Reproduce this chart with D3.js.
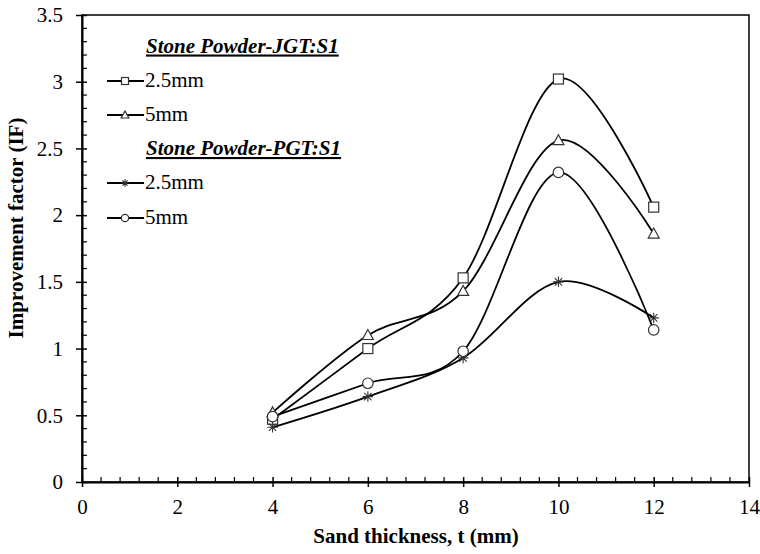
<!DOCTYPE html>
<html><head><meta charset="utf-8">
<script src="https://cdn.jsdelivr.net/npm/d3@7"></script>
<style>body{margin:0;background:#fff}svg{display:block}
html body svg#c text, html body svg#c .tick text{font-family:'Liberation Serif','Times New Roman',Tinos,serif !important}</style>
</head><body><svg id="c" width="760" height="554" font-family="Liberation Serif"></svg>
<script>
const thickness = [4, 6, 8, 10, 12];
const jgt25 = [0.47, 1.00, 1.53, 3.02, 2.06];
const jgt5  = [0.52, 1.10, 1.43, 2.56, 1.86];
const pgt25 = [0.41, 0.64, 0.93, 1.50, 1.23];
const pgt5  = [0.49, 0.74, 0.98, 2.32, 1.14];
const xTicks = [0, 2, 4, 6, 8, 10, 12, 14];
const yTicks = [0, 0.5, 1, 1.5, 2, 2.5, 3, 3.5];
const series = [
  {name: "2.5mm", values: jgt25, marker: "square", group: 0},
  {name: "5mm", values: jgt5, marker: "triangle", group: 0},
  {name: "2.5mm", values: pgt25, marker: "star", group: 1},
  {name: "5mm", values: pgt5, marker: "circle", group: 1}
];
const groupTitles = ["Stone Powder-JGT:S1", "Stone Powder-PGT:S1"];

const svg = d3.select("#c");
const L = 82, R = 749, T = 15, B = 482;
const x = d3.scaleLinear().domain([0, 14]).range([L, R]);
const y = d3.scaleLinear().domain([0, 3.5]).range([B, T]);

// frame
svg.append("rect").attr("x", L).attr("y", T).attr("width", R - L).attr("height", B - T)
  .attr("fill", "none").attr("stroke", "#000").attr("stroke-width", 1.5);

// minor ticks (inside)
const xMinor = d3.range(0, 14.001, 0.4).filter(v => Math.abs(v / 2 - Math.round(v / 2)) > 1e-6);
svg.append("g").selectAll("line").data(xMinor).join("line")
  .attr("x1", d => x(d)).attr("x2", d => x(d)).attr("y1", B).attr("y2", B - 5)
  .attr("stroke", "#000").attr("stroke-width", 1.2);
const yMinor = d3.range(0, 3.501, 0.1).filter(v => Math.abs(v / 0.5 - Math.round(v / 0.5)) > 1e-6);
svg.append("g").selectAll("line").data(yMinor).join("line")
  .attr("x1", L).attr("x2", L + 5).attr("y1", d => y(d)).attr("y2", d => y(d))
  .attr("stroke", "#000").attr("stroke-width", 1.2);

// major axes
const xAxis = d3.axisBottom(x).tickValues(xTicks).tickFormat(d3.format("")).tickSizeInner(5).tickSizeOuter(0).tickPadding(12);
const gx = svg.append("g").attr("transform", `translate(0,${B})`).call(xAxis);
gx.select(".domain").attr("stroke-width", 2);
gx.selectAll(".tick line").attr("y1", -5).attr("y2", 5).attr("stroke-width", 1.5);
const yAxis = d3.axisLeft(y).tickValues(yTicks).tickFormat(d3.format("")).tickSizeInner(6).tickSizeOuter(0).tickPadding(13);
const gy = svg.append("g").attr("transform", `translate(${L},0)`).call(yAxis);
gy.select(".domain").attr("stroke-width", 2);
gy.selectAll(".tick line").attr("x1", -6).attr("x2", 5).attr("stroke-width", 1.5);
[gx, gy].forEach(g => g.attr("font-family", "Liberation Serif").attr("font-size", 21));

// axis titles
svg.append("text").attr("x", (L + R) / 2 + 0.5).attr("y", 543).attr("text-anchor", "middle")
  .attr("font-weight", "bold").attr("font-size", 21).text("Sand thickness, t (mm)");
svg.append("text").attr("transform", `translate(23,228) rotate(-90)`).attr("text-anchor", "middle")
  .attr("font-weight", "bold").attr("font-size", 21).text("Improvement factor (IF)");

// marker drawer
function drawMarker(g, type, cx, cy, s) {
  const h = s / 2;
  if (type === "square") {
    g.append("rect").attr("x", cx - h).attr("y", cy - h).attr("width", s).attr("height", s)
      .attr("fill", "#fff").attr("stroke", "#333").attr("stroke-width", 1.2);
  } else if (type === "triangle") {
    g.append("path").attr("d", `M${cx},${cy - h * 1.15}L${cx + h * 1.1},${cy + h * 0.85}L${cx - h * 1.1},${cy + h * 0.85}Z`)
      .attr("fill", "#fff").attr("stroke", "#333").attr("stroke-width", 1.2);
  } else if (type === "circle") {
    g.append("circle").attr("cx", cx).attr("cy", cy).attr("r", h * 1.05)
      .attr("fill", "#fff").attr("stroke", "#333").attr("stroke-width", 1.2);
  } else if (type === "star") {
    const r = h * 1.05;
    let d = `M${cx - r},${cy}L${cx + r},${cy}`;
    d += `M${cx - r * 0.7},${cy - r * 0.7}L${cx + r * 0.7},${cy + r * 0.7}`;
    d += `M${cx - r * 0.7},${cy + r * 0.7}L${cx + r * 0.7},${cy - r * 0.7}`;
    d += `M${cx},${cy - r}L${cx},${cy + r}`;
    g.append("path").attr("d", d).attr("stroke", "#333").attr("stroke-width", 1.1).attr("fill", "none");
  }
}

// lines
const line = d3.line().x((d, i) => x(thickness[i])).y(d => y(d)).curve(d3.curveCardinal.tension(0));
const plot = svg.append("g");
series.forEach(s => {
  plot.append("path").attr("d", line(s.values)).attr("fill", "none").attr("stroke", "#000").attr("stroke-width", 1.8);
});
series.forEach(s => {
  const g = plot.append("g");
  s.values.forEach((v, i) => drawMarker(g, s.marker, x(thickness[i]), y(v), 10));
});

// legend
const leg = svg.append("g");
const rowsY = [[52.5, 81, 115], [155, 183, 218]];
[0, 1].forEach(gi => {
  leg.append("text").attr("x", 146).attr("y", rowsY[gi][0])
    .attr("font-weight", "bold").attr("font-style", "italic").attr("font-size", 21)
    .attr("text-decoration", "underline").text(groupTitles[gi]);
  series.filter(s => s.group === gi).forEach((s, k) => {
    const yy = rowsY[gi][k + 1];
    leg.append("line").attr("x1", 107).attr("x2", 144).attr("y1", yy).attr("y2", yy)
      .attr("stroke", "#000").attr("stroke-width", 1.8);
    drawMarker(leg, s.marker, 125, yy, 7);
    leg.append("text").attr("x", 145).attr("y", yy + 6).attr("font-size", 21).text(s.name);
  });
});

svg.selectAll("text").attr("font-family", "Liberation Serif").attr("fill", "#000");
</script></body></html>
